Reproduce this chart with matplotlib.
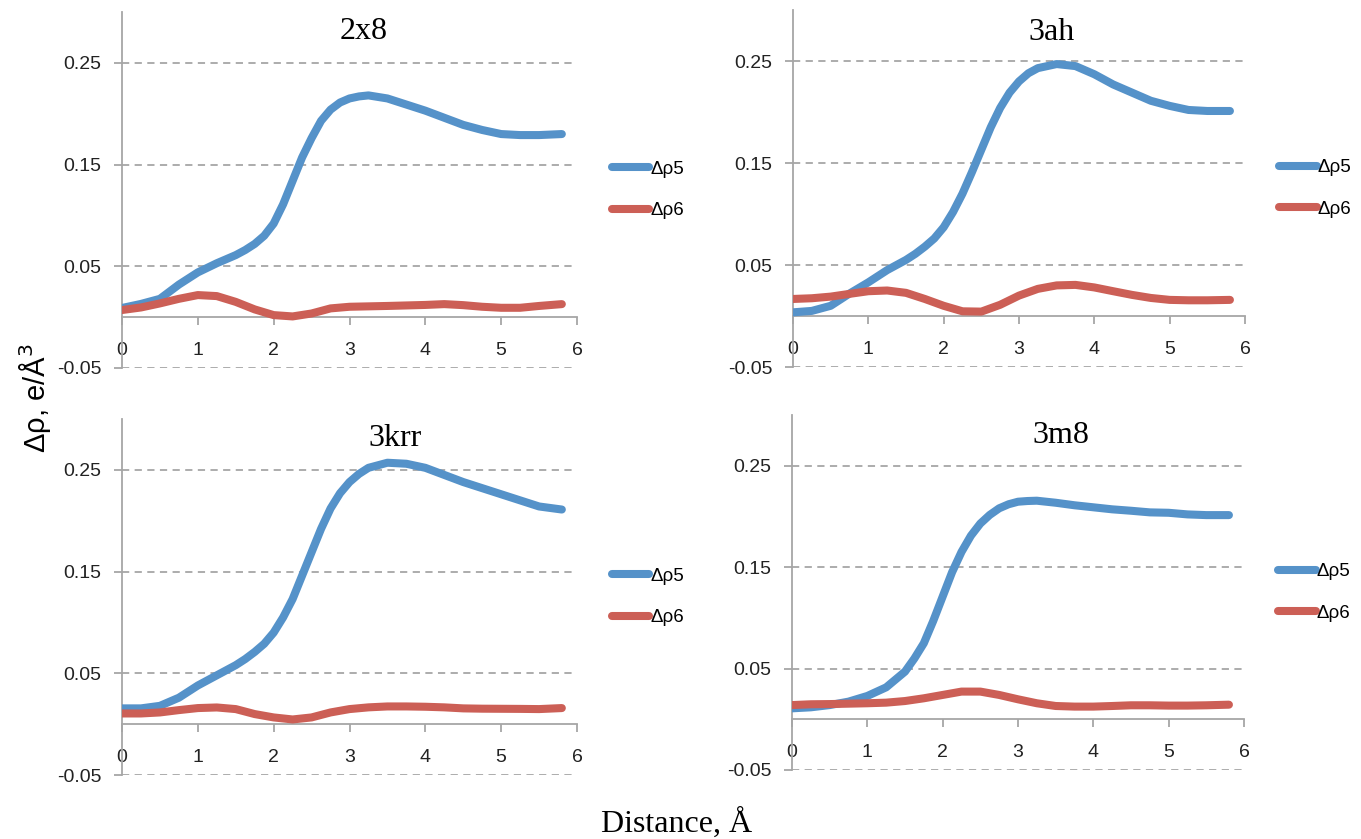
import numpy as np
import matplotlib.pyplot as plt

# distances (Å) at which the curves were read; the Δρ5 curves are read more densely around the rise
distance5 = [0, 0.25, 0.5, 0.75, 1, 1.25, 1.5, 1.625, 1.75, 1.875, 2, 2.125, 2.25, 2.375, 2.5,
             2.625, 2.75, 2.875, 3, 3.125, 3.25, 3.5, 3.75, 4, 4.25, 4.5, 4.75, 5, 5.25, 5.5, 5.8]
distance6 = [0, 0.25, 0.5, 0.75, 1, 1.25, 1.5, 1.75, 2, 2.25, 2.5, 2.75,
             3, 3.25, 3.5, 3.75, 4, 4.25, 4.5, 4.75, 5, 5.25, 5.5, 5.8]

titles = ['2x8', '3ah', '3krr', '3m8']
series_names = ['Δρ5', 'Δρ6']

rho5_2x8 = [0.009, 0.013, 0.018, 0.032, 0.044, 0.053, 0.061, 0.066, 0.072, 0.080, 0.092, 0.111, 0.134,
            0.157, 0.176, 0.193, 0.204, 0.211, 0.215, 0.217, 0.218, 0.215, 0.209, 0.203, 0.196, 0.189,
            0.184, 0.180, 0.179, 0.179, 0.180]
rho6_2x8 = [0.007, 0.0095, 0.0135, 0.018, 0.0217, 0.0207, 0.015, 0.0076, 0.002, 0.0007, 0.0036, 0.0086,
            0.0102, 0.0106, 0.011, 0.0115, 0.012, 0.0128, 0.0118, 0.0102, 0.0092, 0.0092, 0.011, 0.0128]

rho5_3ah = [0.0036, 0.005, 0.010, 0.022, 0.033, 0.045, 0.055, 0.061, 0.068, 0.076, 0.087, 0.102, 0.120,
            0.141, 0.163, 0.185, 0.204, 0.219, 0.230, 0.238, 0.243, 0.247, 0.245, 0.237, 0.227, 0.219,
            0.211, 0.206, 0.202, 0.201, 0.201]
rho6_3ah = [0.0167, 0.0174, 0.019, 0.0217, 0.0243, 0.025, 0.0227, 0.0167, 0.010, 0.0046, 0.0043, 0.011,
            0.020, 0.0266, 0.030, 0.0305, 0.028, 0.0243, 0.0207, 0.0177, 0.0158, 0.0154, 0.0154, 0.0158]

rho5_3krr = [0.0155, 0.0155, 0.018, 0.026, 0.038, 0.048, 0.058, 0.064, 0.071, 0.079, 0.090, 0.105, 0.123,
             0.146, 0.169, 0.192, 0.212, 0.227, 0.238, 0.246, 0.252, 0.257, 0.256, 0.252, 0.245, 0.238,
             0.232, 0.226, 0.220, 0.214, 0.211]
rho6_3krr = [0.0105, 0.0105, 0.0115, 0.0138, 0.0158, 0.0164, 0.0148, 0.0099, 0.0066, 0.0046, 0.0066, 0.0115,
             0.0148, 0.0165, 0.0174, 0.0174, 0.0171, 0.0165, 0.0155, 0.0152, 0.0151, 0.015, 0.0148, 0.0158]

rho5_3m8 = [0.0108, 0.0118, 0.014, 0.0174, 0.023, 0.0315, 0.047, 0.060, 0.075, 0.097, 0.121, 0.145, 0.165,
            0.181, 0.193, 0.2015, 0.208, 0.212, 0.2145, 0.2152, 0.2155, 0.2135, 0.211, 0.209, 0.207, 0.2056,
            0.204, 0.2036, 0.202, 0.2013, 0.2013]
rho6_3m8 = [0.014, 0.0148, 0.015, 0.0154, 0.0158, 0.0164, 0.018, 0.0207, 0.024, 0.0273, 0.0273, 0.024,
            0.0197, 0.0158, 0.0131, 0.0125, 0.0125, 0.0131, 0.0138, 0.0138, 0.0135, 0.0135, 0.0138, 0.0144]

rho5 = [rho5_2x8, rho5_3ah, rho5_3krr, rho5_3m8]
rho6 = [rho6_2x8, rho6_3ah, rho6_3krr, rho6_3m8]

y_ticks = [-0.05, 0.05, 0.15, 0.25]
y_ticklabels = ['-0.05', '0.05', '0.15', '0.25']
x_ticks = [0, 1, 2, 3, 4, 5, 6]

BLUE = '#5592C9'
RED = '#CC5F56'
GRAY = '#A6A6A6'
SANS = ['Liberation Sans', 'DejaVu Sans']
SERIF = ['Liberation Serif', 'DejaVu Serif']

W, H = 1361, 839
# plot-area boxes in pixels: left, top, right, bottom
boxes = [(122, 12, 577, 368), (793, 10, 1245, 367), (122, 419, 577, 775), (792, 415, 1244, 770)]
title_pos = [(0.53, 0.944), (0.573, 0.938), (0.60, 0.944), (0.595, 0.941)]

fig = plt.figure(figsize=(W / 100, H / 100), dpi=100)

for i, (l, t, r, b) in enumerate(boxes):
    ax = fig.add_axes([l / W, 1 - b / H, (r - l) / W, (b - t) / H])
    ax.plot(distance5, rho5[i], color=BLUE, lw=5.8, solid_capstyle='round', solid_joinstyle='round',
            label=series_names[0], zorder=3)
    ax.plot(distance6, rho6[i], color=RED, lw=5.8, solid_capstyle='round', solid_joinstyle='round',
            label=series_names[1], zorder=3)

    ax.set_xlim(0, 6)
    ax.set_ylim(-0.05, 0.30)
    ax.set_xticks(x_ticks)
    ax.set_yticks(y_ticks)
    ax.set_yticklabels(y_ticklabels)
    ax.grid(axis='y', linestyle=(0, (4, 3)), color=GRAY, lw=1.3)
    ax.set_axisbelow(True)

    ax.spines['top'].set_visible(False)
    ax.spines['right'].set_visible(False)
    ax.spines['bottom'].set_position(('data', 0))
    for s in ('left', 'bottom'):
        ax.spines[s].set_color(GRAY)
        ax.spines[s].set_linewidth(1.3)

    ax.tick_params(axis='x', direction='out', length=6, width=1.3, color=GRAY, pad=12,
                   labelsize=14, labelcolor='#222222')
    ax.tick_params(axis='y', direction='out', length=6, width=1.3, color=GRAY, pad=9,
                   labelsize=14, labelcolor='#222222')
    for lab in ax.get_xticklabels() + ax.get_yticklabels():
        lab.set_family(SANS)

    ax.text(title_pos[i][0], title_pos[i][1], titles[i], transform=ax.transAxes,
            ha='center', va='center', fontsize=23, family=SERIF)

    ax.legend(frameon=False, loc='center left', bbox_to_anchor=(1.076, 0.5),
              handlelength=2.0, handletextpad=0.05, labelspacing=1.3,
              borderpad=0, borderaxespad=0, prop={'family': SANS, 'size': 13.5})

fig.text(35 / W, 1 - 398 / H, 'Δρ, e/Å$^3$', rotation=90, ha='center', va='center',
         fontsize=21, family=SANS)
fig.text(677 / W, 1 - 823 / H, 'Distance, Å', ha='center', va='center',
         fontsize=23, family=SERIF)

fig.savefig('out.png', dpi=100)
